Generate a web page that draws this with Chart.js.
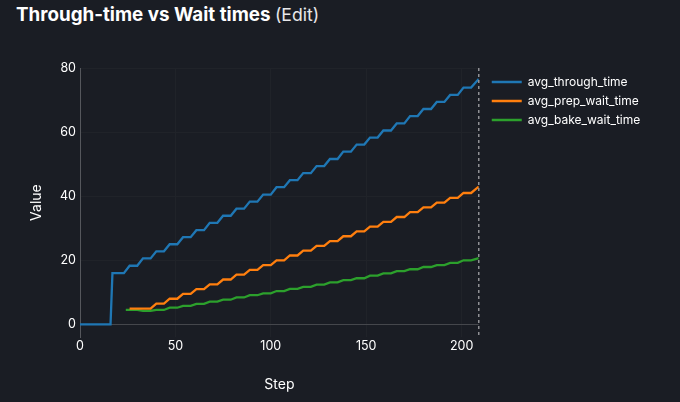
<html>
<head>
<style>
    body { margin: 0; background: #1a1d24; width: 680px; height: 402px; overflow: hidden; }
    #title { position: absolute; left: 16px; top: 1px; font-family: Inter, sans-serif; color: #fff; font-size: 18.8px; line-height: 28px; font-weight: 700; white-space: nowrap; }
    #title span { font-weight: 400; font-size: 17.6px; color: #e8e8ea; }
    #myChart { position: absolute; left: 0; top: 0; }
</style>
</head>
<body>
<div id="title">Through-time vs Wait times <span>(Edit)</span></div>
<canvas id="myChart" width="680" height="402"></canvas>
<script src="https://cdnjs.cloudflare.com/ajax/libs/Chart.js/4.4.1/chart.umd.min.js"></script>
<script>
    const xTicks = [0, 50, 100, 150, 200];
    const yTicks = [0, 20, 40, 60, 80];
    const lastStep = 209;

    // corners of the stair steps
    const steps = [0, 16, 17, 23, 24,
        26, 30, 33, 37, 40, 44, 47, 51, 54, 58, 61, 65, 68, 72, 75, 79,
        82, 86, 89, 93, 96, 100, 103, 107, 110, 114, 117, 121, 124, 128, 131, 135,
        138, 142, 145, 149, 152, 156, 159, 163, 166, 170, 173, 177, 180, 184, 187, 191,
        194, 198, 201, 205, 209];
    const avgThroughTime = [0, 0, 16, 16, null,
        18.3, 18.3, 20.6, 20.6, 22.8, 22.8, 25, 25, 27.2, 27.2, 29.4, 29.4, 31.7, 31.7, 33.9, 33.9,
        36.1, 36.1, 38.3, 38.3, 40.5, 40.5, 42.8, 42.8, 45, 45, 47.2, 47.2, 49.4, 49.4, 51.6, 51.6,
        53.9, 53.9, 56.1, 56.1, 58.3, 58.3, 60.5, 60.5, 62.7, 62.7, 65, 65, 67.2, 67.2, 69.4, 69.4,
        71.6, 71.6, 73.9, 73.9, 76.6];
    const avgPrepWaitTime = [null, null, null, null, null,
        4.9, 4.9, 4.9, 4.9, 6.5, 6.5, 8, 8, 9.5, 9.5, 11, 11, 12.5, 12.5, 14, 14,
        15.5, 15.5, 17, 17, 18.5, 18.5, 20, 20, 21.5, 21.5, 23, 23, 24.5, 24.5, 26, 26,
        27.5, 27.5, 29, 29, 30.5, 30.5, 32, 32, 33.5, 33.5, 35, 35, 36.5, 36.5, 38, 38,
        39.5, 39.5, 41, 41, 43];
    const avgBakeWaitTime = [null, null, null, null, 4.5,
        4.5, 4.5, 4.2, 4.2, 4.5, 4.5, 5.2, 5.2, 5.8, 5.8, 6.4, 6.4, 7.1, 7.1, 7.7, 7.7,
        8.4, 8.4, 9.1, 9.1, 9.7, 9.7, 10.4, 10.4, 11.1, 11.1, 11.7, 11.7, 12.4, 12.4, 13.1, 13.1,
        13.8, 13.8, 14.4, 14.4, 15.2, 15.2, 15.9, 15.9, 16.6, 16.6, 17.2, 17.2, 17.9, 17.9, 18.5, 18.5,
        19.2, 19.2, 20, 20, 20.7];

    function toPoints(values) {
        return values.map((v, i) => ({ x: steps[i], y: v }));
    }

    // dashed line at the last step, and room for the legend
    const spikeLine = {
        id: "spikeLine",
        afterLayout(chart) {
            chart.legend.left += 6;
            chart.legend.top += 1;
            chart.legend.right += 40;
        },
        afterDatasetsDraw(chart) {
            const ctx = chart.ctx;
            const x = chart.scales.x.getPixelForValue(lastStep);
            ctx.save();
            ctx.strokeStyle = "#8f9094";
            ctx.lineWidth = 1.5;
            ctx.setLineDash([3, 3]);
            ctx.beginPath();
            ctx.moveTo(x, chart.chartArea.top);
            ctx.lineTo(x, chart.chartArea.bottom);
            ctx.stroke();
            ctx.restore();
        }
    };

    const tickFont = { family: "Inter", size: 12.5 };
    const titleFont = { family: "Inter", size: 14 };

    let myChart = new Chart("myChart", {
        type: "line",
        data: {
            datasets: [
                { label: "avg_through_time", data: toPoints(avgThroughTime), borderColor: "#1f77b4", backgroundColor: "#1f77b4" },
                { label: "avg_prep_wait_time", data: toPoints(avgPrepWaitTime), borderColor: "#ff7f0e", backgroundColor: "#ff7f0e" },
                { label: "avg_bake_wait_time", data: toPoints(avgBakeWaitTime), borderColor: "#2ca02c", backgroundColor: "#2ca02c" }
            ]
        },
        options: {
            responsive: false,
            animation: false,
            spanGaps: true,
            elements: { point: { radius: 0 }, line: { borderWidth: 2.3, tension: 0 } },
            layout: { padding: { left: 28, right: 51, top: 68, bottom: 9 } },
            plugins: {
                legend: {
                    position: "right",
                    align: "start",
                    labels: { boxWidth: 30, boxHeight: 0, padding: 7, color: "#fff", font: { family: "Inter", size: 12 } }
                },
                tooltip: { enabled: false }
            },
            scales: {
                x: {
                    type: "linear",
                    min: 0,
                    max: lastStep,
                    afterBuildTicks: (axis) => { axis.ticks = xTicks.map((v) => ({ value: v })); },
                    grid: { color: "#202329", drawTicks: false },
                    border: { display: false },
                    ticks: { color: "#fff", font: tickFont, padding: 2, maxRotation: 0 },
                    title: { display: true, text: "Step", color: "#fff", font: titleFont, padding: { top: 20, bottom: 0 } }
                },
                y: {
                    min: -4,
                    max: 80,
                    afterBuildTicks: (axis) => { axis.ticks = yTicks.map((v) => ({ value: v })); },
                    afterFit: (axis) => { axis.width = 52; },
                    grid: { color: (c) => (c.tick && c.tick.value === 0 ? "#45474c" : "#202329"), drawTicks: false },
                    border: { color: "#55575c" },
                    ticks: { color: "#fff", font: tickFont, padding: 4 },
                    title: { display: true, text: "Value", color: "#fff", font: titleFont, padding: { top: 0, bottom: 10 } }
                }
            }
        },
        plugins: [spikeLine]
    });
</script>
</body>
</html>
